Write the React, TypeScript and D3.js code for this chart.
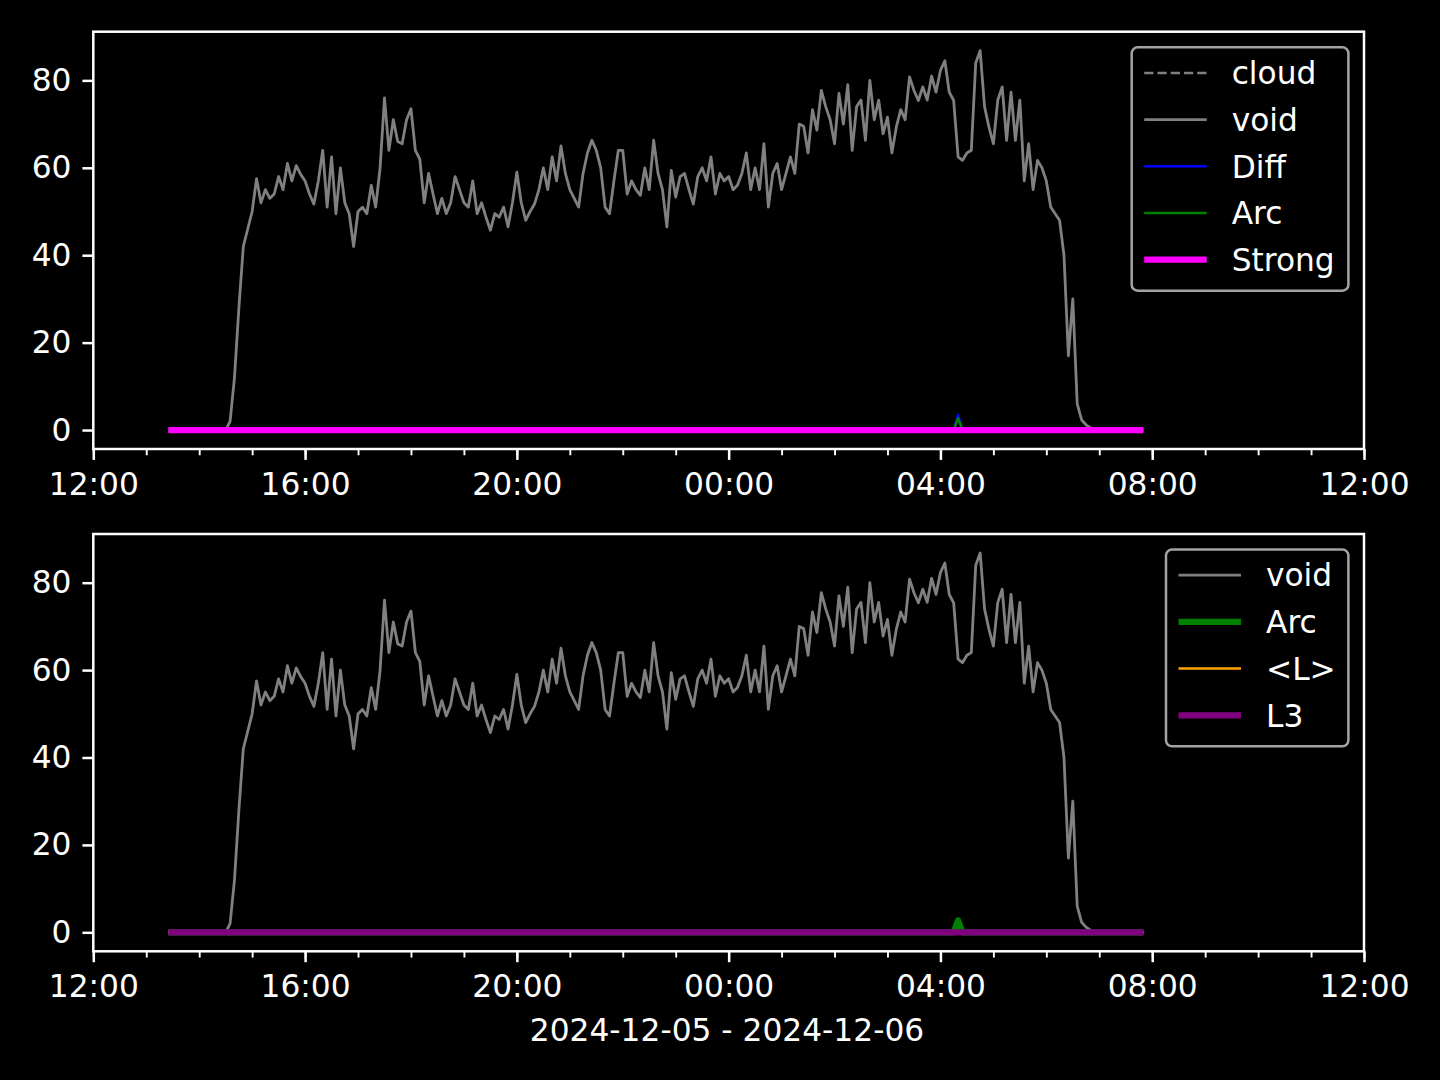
import { useEffect, useRef } from 'react'
import * as d3 from 'd3'

// void series, 5 minute samples starting 2024-12-05 13:25
const startTime = new Date(2024, 11, 5, 13, 25)
const stepMinutes = 5

const voidValues = [
  0, 0, 0, 0, 0, 0, 0, 0, 0, 0, 0, 0, 0, 0,
  2, 12, 28, 42, 46, 50, 57.5, 52, 55, 53, 54, 58, 55, 61, 57, 60.5,
  58.5, 57, 54, 51.7, 57, 64, 51, 62.5, 49.5, 60, 52, 49.5, 42, 50, 51,
  49.5, 56, 51, 60, 76, 64, 71, 66, 65.5, 71, 73.5, 64, 62, 52, 58.7,
  54, 49.5, 53, 49.5, 52, 58, 55, 52, 51, 57, 49.5, 52, 48.7, 45.7, 49.5,
  48.7, 51, 46.5, 52, 59, 52, 48, 50, 51.7, 55, 60, 55, 62.5, 57, 65,
  58.7, 55, 53, 51, 58.7, 63.4, 66.3, 64, 60, 51, 49.5, 57, 64, 64, 54,
  57, 55, 53.7, 60, 55, 66.3, 58.7, 55, 46.5, 59.4, 53.3, 58, 58.7, 55, 51.7,
  58, 60, 57, 62.5, 54, 58.7, 57, 58, 55, 56, 58.7, 63.4, 55, 60, 55,
  65.5, 51, 58.7, 61, 55, 58.7, 62.5, 58.7, 70, 69.5, 63.4, 73.3, 68.6, 77.7, 74,
  71, 65.5, 77, 70, 79, 64, 74, 75.5, 66.3, 80, 71, 75.5, 67.8, 71.6, 63.4,
  69.3, 73.3, 71, 80.8, 77.7, 75.4, 78.5, 75.5, 81, 77.3, 82.3, 84.5, 77.3, 75.4, 62.5,
  61.7, 63.4, 64, 84, 86.8, 74, 69.3, 65.5, 75.5, 78.5, 66.3, 77.3, 66.3, 75.5, 57,
  65.5, 55, 61.7, 60, 57, 51, 49.5, 48, 40, 17, 30, 6, 2.3, 1.2, 0.5,
  0.2, 0, 0, 0, 0, 0, 0, 0, 0, 0, 0, 0,
]

const cloudPoints: [string, number][] = []
const diffPoints: [string, number][] = [
  ['2024-12-05 13:25', 0], ['2024-12-06 04:15', 0], ['2024-12-06 04:20', 3.5],
  ['2024-12-06 04:25', 0], ['2024-12-06 07:50', 0],
]
const arcPoints: [string, number][] = [
  ['2024-12-05 13:25', 0], ['2024-12-06 04:15', 0], ['2024-12-06 04:20', 2.7],
  ['2024-12-06 04:25', 0], ['2024-12-06 07:50', 0],
]
const strongPoints: [string, number][] = [['2024-12-05 13:25', 0], ['2024-12-06 07:50', 0]]
const meanLPoints: [string, number][] = [['2024-12-05 13:25', 0], ['2024-12-06 07:50', 0]]
const l3Points: [string, number][] = [['2024-12-05 13:25', 0], ['2024-12-06 07:50', 0]]

const yTicks = [0, 20, 40, 60, 80]
const dateLabel = '2024-12-05 - 2024-12-06'

type Pt = { t: Date; v: number }
type Series = { name: string; color: string; width: number; dash?: string; data: Pt[] }

const parse = d3.timeParse('%Y-%m-%d %H:%M')
const toPts = (p: [string, number][]): Pt[] => p.map(([t, v]) => ({ t: parse(t)!, v }))
const voidData: Pt[] = voidValues.map((v, i) => ({ t: d3.timeMinute.offset(startTime, i * stepMinutes), v }))

const FONT = 'DejaVu Sans, sans-serif'
const FS = 31.25
const THIN = 2.5
const THICK = 6.25

export default function App() {
  const svgRef = useRef<SVGSVGElement>(null)

  useEffect(() => {
    document.body.style.margin = '0'
    document.body.style.background = '#000'
    if (!svgRef.current) return

    const svg = d3.select(svgRef.current)
    svg.selectAll('*').remove()
    svg.append('rect').attr('width', 1440).attr('height', 1080).attr('fill', '#000')

    const left = 93.3
    const right = 1364
    const panelH = 417.3

    const x = d3.scaleTime()
      .domain([new Date(2024, 11, 5, 12), new Date(2024, 11, 6, 12)])
      .range([left, right])

    const topSeries: Series[] = [
      { name: 'cloud', color: 'gray', width: THIN, dash: '9.25,4', data: toPts(cloudPoints) },
      { name: 'void', color: 'gray', width: 2.8, data: voidData },
      { name: 'Diff', color: 'blue', width: THIN, data: toPts(diffPoints) },
      { name: 'Arc', color: 'green', width: THIN, data: toPts(arcPoints) },
      { name: 'Strong', color: 'magenta', width: THICK, data: toPts(strongPoints) },
    ]
    const bottomSeries: Series[] = [
      { name: 'void', color: 'gray', width: 2.8, data: voidData },
      { name: 'Arc', color: 'green', width: THICK, data: toPts(arcPoints) },
      { name: '<L>', color: 'orange', width: THIN, data: toPts(meanLPoints) },
      { name: 'L3', color: 'purple', width: THICK, data: toPts(l3Points) },
    ]

    const drawPanel = (top: number, series: Series[], legendLeft: number, id: string) => {
      const bottom = top + panelH
      const all = series.flatMap(s => s.data.map(d => d.v))
      const [mn, mx] = d3.extent(all) as [number, number]
      const pad = (mx - mn) * 0.05
      const y = d3.scaleLinear().domain([mn - pad, mx + pad]).range([bottom, top])

      const g = svg.append('g')

      svg.append('defs').append('clipPath').attr('id', id)
        .append('rect').attr('x', left).attr('y', top).attr('width', right - left).attr('height', panelH)

      const line = d3.line<Pt>().x(d => x(d.t)).y(d => y(d.v))
      const plot = g.append('g').attr('clip-path', `url(#${id})`)
      series.forEach(s => {
        if (!s.data.length) return
        plot.append('path')
          .datum(s.data)
          .attr('d', line)
          .attr('fill', 'none')
          .attr('stroke', s.color)
          .attr('stroke-width', s.width)
          .attr('stroke-linejoin', 'round')
          .attr('stroke-dasharray', s.dash ?? null)
      })

      // minor x ticks every hour
      const minor = g.append('g')
        .attr('transform', `translate(0,${bottom})`)
        .call(d3.axisBottom(x).ticks(d3.timeHour.every(1)).tickSize(6.25).tickFormat(() => ''))
      minor.select('.domain').remove()
      minor.selectAll('line').attr('stroke', '#fff').attr('stroke-width', 1.9)

      const xAxis = g.append('g')
        .attr('transform', `translate(0,${bottom})`)
        .call(d3.axisBottom(x).ticks(d3.timeHour.every(4))
          .tickFormat(d => d3.timeFormat('%H:%M')(d as Date))
          .tickSize(10.9).tickPadding(13))
      xAxis.select('.domain').remove()
      xAxis.selectAll('line').attr('stroke', '#fff').attr('stroke-width', THIN)
      xAxis.selectAll('text').attr('fill', '#fff').attr('font-size', FS).attr('font-family', FONT)

      const yAxis = g.append('g')
        .attr('transform', `translate(${left},0)`)
        .call(d3.axisLeft(y).tickValues(yTicks).tickSize(10.9).tickPadding(10.9))
      yAxis.select('.domain').remove()
      yAxis.selectAll('line').attr('stroke', '#fff').attr('stroke-width', THIN)
      yAxis.selectAll('text').attr('fill', '#fff').attr('font-size', FS).attr('font-family', FONT)

      g.append('rect')
        .attr('x', left).attr('y', top).attr('width', right - left).attr('height', panelH)
        .attr('fill', 'none').attr('stroke', '#fff').attr('stroke-width', THIN)

      // legend
      const rowH = 46.7
      const legTop = top + 15.6
      const legRight = right - 15.6
      const legH = 25.6 + rowH * (series.length - 1) + 31
      const leg = g.append('g')
      leg.append('rect')
        .attr('x', legendLeft).attr('y', legTop)
        .attr('width', legRight - legendLeft).attr('height', legH)
        .attr('rx', 6).attr('fill', '#000').attr('stroke', '#a3a3a3').attr('stroke-width', THIN)
      series.forEach((s, i) => {
        const cy = legTop + 25.6 + i * rowH
        leg.append('line')
          .attr('x1', legendLeft + 12.5).attr('x2', legendLeft + 12.5 + 62.5)
          .attr('y1', cy).attr('y2', cy)
          .attr('stroke', s.color).attr('stroke-width', s.width)
          .attr('stroke-dasharray', s.dash ?? null)
        leg.append('text')
          .attr('x', legendLeft + 12.5 + 62.5 + 25)
          .attr('y', cy).attr('dy', '0.36em')
          .attr('fill', '#fff').attr('font-size', FS).attr('font-family', FONT)
          .text(s.name)
      })
    }

    drawPanel(31.7, topSeries, 1131.7, 'clip-top')
    drawPanel(534, bottomSeries, 1166, 'clip-bottom')

    svg.append('text')
      .attr('x', 727).attr('y', 1030).attr('dy', '0.36em')
      .attr('text-anchor', 'middle')
      .attr('fill', '#fff').attr('font-size', FS).attr('font-family', FONT)
      .text(dateLabel)
  }, [])

  return <svg ref={svgRef} width={1440} height={1080} style={{ display: 'block' }}></svg>
}
